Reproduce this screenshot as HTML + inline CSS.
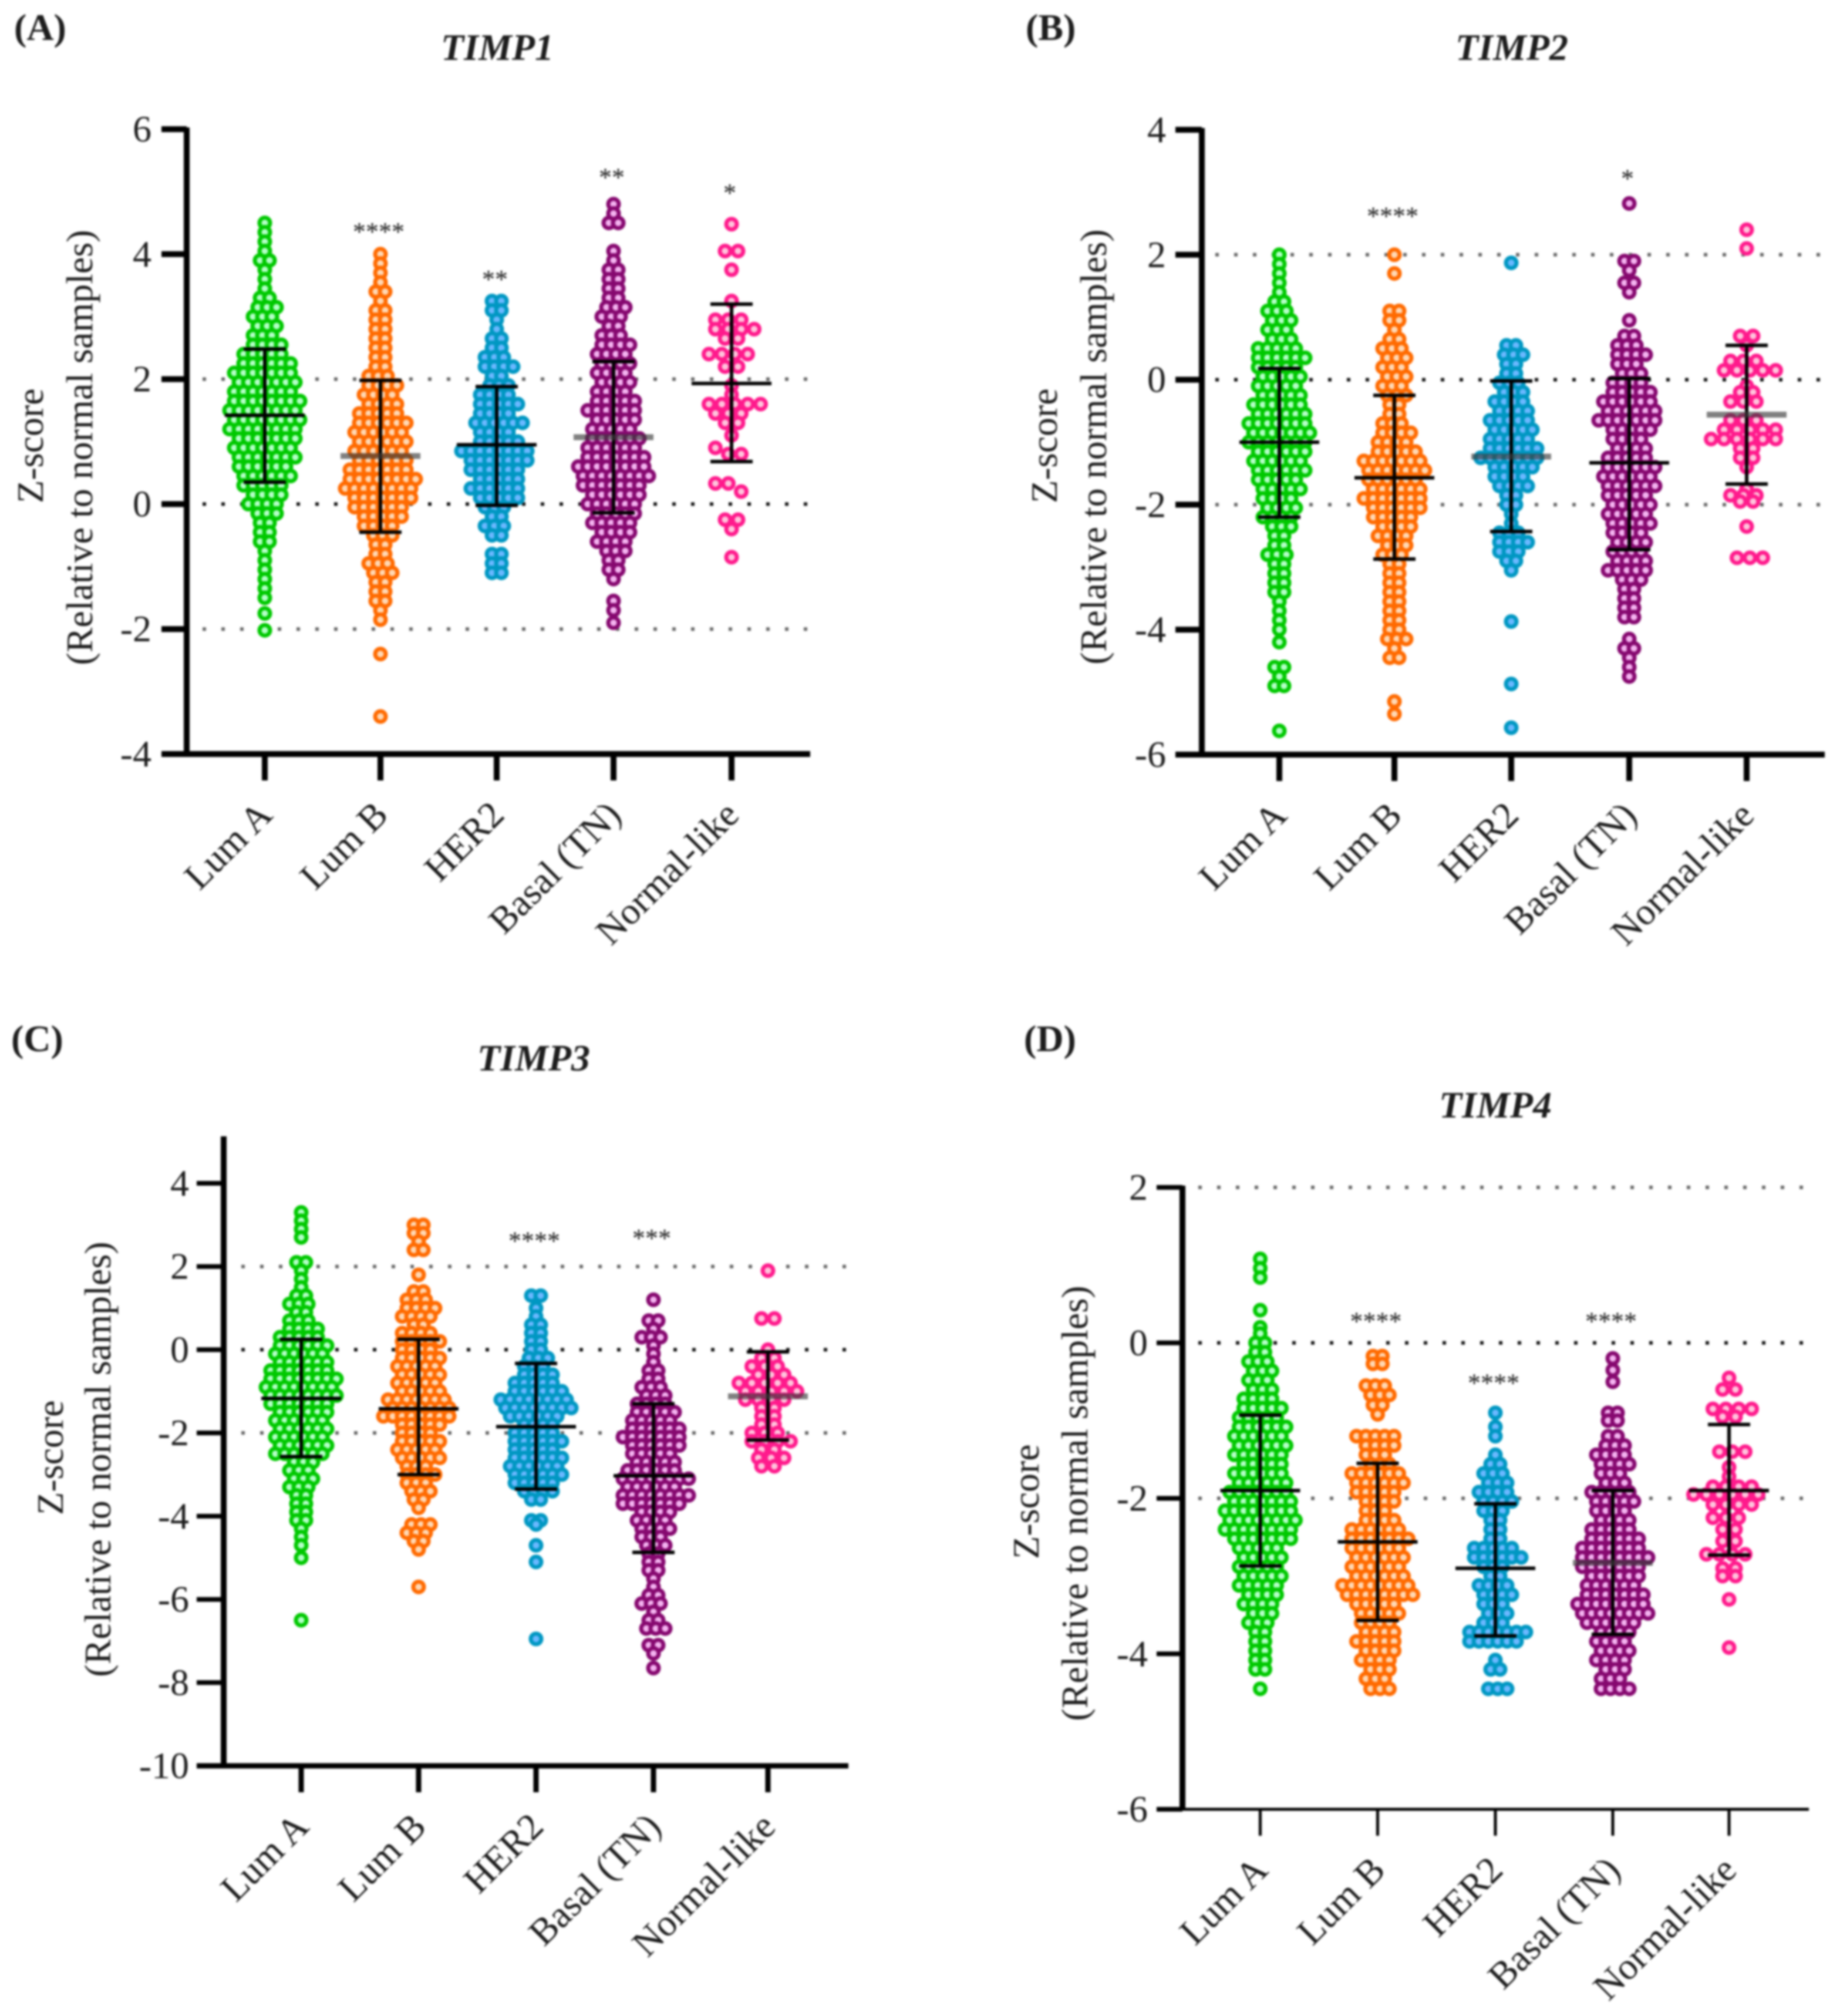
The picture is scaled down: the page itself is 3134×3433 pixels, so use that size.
<!DOCTYPE html>
<html lang="en">
<head>
<meta charset="utf-8">
<title>TIMP1-4 z-scores by breast cancer subtype</title>
<style>
html,body{margin:0;padding:0;background:#fff;}
svg{display:block;filter:blur(1.8px);}
text{font-family:"Liberation Serif",serif;fill:#1c1c1c;}
</style>
</head>
<body>
<svg id="figure" xmlns="http://www.w3.org/2000/svg" width="3134" height="3433" viewBox="0 0 3134 3433"></svg>
<script>
const categories=['Lum A','Lum B','HER2','Basal (TN)','Normal-like'];
const colors=['#00c800','#ff6a00','#0097c2','#86086f','#ff1a8c'];
const tints=['#b4ffc8','#ffd8b4','#6ab8ff','#f4b4f0','#ffc4dc'];

const timp1Ticks=[6,4,2,0,-2,-4];
const timp1Means=[1.42,0.77,0.95,1.07,1.93];
const timp1Upper=[2.48,1.98,1.88,2.28,3.2];
const timp1Lower=[0.35,-0.45,-0.02,-0.14,0.68];
const timp1Stars=['','****','**','**','*'];
const timp1StarLevels=[0,4.44,3.68,5.31,5.06];
const timp1LumA=[4.5,4.35,4.2,4.05,3.9,3.9,3.75,3.6,3.45,3.3,3.3,3.15,3.15,3.15,3,3,3,2.85,2.85,2.85,2.7,2.7,2.7,2.55,2.55,2.55,2.55,2.4,2.4,2.4,2.4,2.4,2.25,2.25,2.25,2.25,2.25,2.25,2.1,2.1,2.1,2.1,2.1,2.1,2.1,1.95,1.95,1.95,1.95,1.95,1.95,1.95,1.8,1.8,1.8,1.8,1.8,1.8,1.8,1.65,1.65,1.65,1.65,1.65,1.65,1.65,1.65,1.5,1.5,1.5,1.5,1.5,1.5,1.5,1.5,1.35,1.35,1.35,1.35,1.35,1.35,1.35,1.35,1.2,1.2,1.2,1.2,1.2,1.2,1.2,1.2,1.05,1.05,1.05,1.05,1.05,1.05,1.05,0.9,0.9,0.9,0.9,0.9,0.9,0.9,0.75,0.75,0.75,0.75,0.75,0.75,0.75,0.6,0.6,0.6,0.6,0.6,0.6,0.45,0.45,0.45,0.45,0.45,0.45,0.3,0.3,0.3,0.3,0.3,0.15,0.15,0.15,0.15,0,0,0,0,-0.15,-0.15,-0.15,-0.3,-0.3,-0.45,-0.45,-0.6,-0.6,-0.75,-0.9,-1.05,-1.2,-1.35,-1.5,-1.75,-2.02];
const timp1LumB=[4,3.85,3.7,3.55,3.4,3.4,3.25,3.1,3.1,2.95,2.95,2.8,2.8,2.65,2.65,2.5,2.5,2.35,2.35,2.2,2.2,2.05,2.05,2.05,1.9,1.9,1.9,1.9,1.75,1.75,1.75,1.75,1.6,1.6,1.6,1.6,1.45,1.45,1.45,1.45,1.45,1.3,1.3,1.3,1.3,1.3,1.3,1.15,1.15,1.15,1.15,1.15,1.15,1,1,1,1,1,1,0.85,0.85,0.85,0.85,0.85,0.85,0.7,0.7,0.7,0.7,0.7,0.7,0.55,0.55,0.55,0.55,0.55,0.55,0.55,0.4,0.4,0.4,0.4,0.4,0.4,0.4,0.4,0.25,0.25,0.25,0.25,0.25,0.25,0.25,0.25,0.1,0.1,0.1,0.1,0.1,0.1,0.1,-0.05,-0.05,-0.05,-0.05,-0.05,-0.05,-0.2,-0.2,-0.2,-0.2,-0.2,-0.35,-0.35,-0.35,-0.35,-0.5,-0.5,-0.5,-0.65,-0.65,-0.8,-0.8,-0.95,-0.95,-0.95,-1.1,-1.1,-1.1,-1.25,-1.25,-1.4,-1.4,-1.55,-1.55,-1.7,-1.85,-2.4,-3.4];
const timp1Her2=[3.25,3.25,3.1,3.1,2.95,2.8,2.65,2.65,2.5,2.5,2.35,2.35,2.35,2.2,2.2,2.2,2.2,2.05,2.05,1.9,1.9,1.9,1.75,1.75,1.75,1.75,1.6,1.6,1.6,1.6,1.6,1.45,1.45,1.45,1.45,1.3,1.3,1.3,1.3,1.3,1.3,1.15,1.15,1.15,1.15,1,1,1,1,1,0.85,0.85,0.85,0.85,0.85,0.85,0.85,0.85,0.7,0.7,0.7,0.7,0.7,0.7,0.7,0.55,0.55,0.55,0.55,0.55,0.55,0.4,0.4,0.4,0.4,0.4,0.25,0.25,0.25,0.25,0.25,0.25,0.1,0.1,0.1,0.1,0.1,-0.05,-0.05,-0.05,-0.2,-0.2,-0.35,-0.35,-0.35,-0.5,-0.5,-0.8,-0.8,-0.95,-0.95,-1.1,-1.1];
const timp1Basal=[4.8,4.65,4.5,4.5,4.05,3.9,3.75,3.75,3.6,3.6,3.45,3.45,3.3,3.3,3.15,3.15,3.15,3,3,3,2.85,2.85,2.7,2.7,2.7,2.55,2.55,2.55,2.55,2.4,2.4,2.4,2.4,2.25,2.25,2.25,2.25,2.1,2.1,2.1,2.1,1.95,1.95,1.95,1.95,1.8,1.8,1.8,1.8,1.65,1.65,1.65,1.65,1.65,1.5,1.5,1.5,1.5,1.5,1.5,1.35,1.35,1.35,1.35,1.35,1.2,1.2,1.2,1.2,1.2,1.05,1.05,1.05,1.05,1.05,1.05,0.9,0.9,0.9,0.9,0.9,0.9,0.75,0.75,0.75,0.75,0.75,0.75,0.75,0.6,0.6,0.6,0.6,0.6,0.6,0.6,0.6,0.45,0.45,0.45,0.45,0.45,0.45,0.45,0.45,0.3,0.3,0.3,0.3,0.3,0.3,0.3,0.15,0.15,0.15,0.15,0.15,0.15,0,0,0,0,0,0,-0.15,-0.15,-0.15,-0.15,-0.15,-0.3,-0.3,-0.3,-0.3,-0.3,-0.45,-0.45,-0.45,-0.45,-0.6,-0.6,-0.6,-0.6,-0.75,-0.75,-0.75,-0.9,-0.9,-1.05,-1.05,-1.2,-1.55,-1.7,-1.9];
const timp1Normal=[4.48,4.05,4.05,3.75,3.25,2.95,2.95,2.95,2.8,2.8,2.8,2.8,2.65,2.65,2.4,2.4,2.4,2.4,2.2,2.2,1.9,1.75,1.6,1.6,1.6,1.6,1.6,1.45,1.45,1.45,1.3,1.3,1.1,0.9,0.8,0.8,0.33,0.33,0.2,-0.25,-0.25,-0.4,-0.85];

const timp2Ticks=[4,2,0,-2,-4,-6];
const timp2Means=[-1,-1.57,-1.23,-1.33,-0.56];
const timp2Upper=[0.18,-0.25,-0.02,0.02,0.55];
const timp2Lower=[-2.2,-2.87,-2.43,-2.72,-1.67];
const timp2Stars=['','****','','*',''];
const timp2StarLevels=[0,2.7,0,3.3,0];
const timp2LumA=[2,1.85,1.7,1.55,1.4,1.25,1.25,1.1,1.1,1.1,0.95,0.95,0.95,0.8,0.8,0.8,0.65,0.65,0.65,0.5,0.5,0.5,0.5,0.5,0.35,0.35,0.35,0.35,0.35,0.35,0.2,0.2,0.2,0.2,0.2,0.05,0.05,0.05,0.05,0.05,-0.1,-0.1,-0.1,-0.1,-0.1,-0.25,-0.25,-0.25,-0.25,-0.25,-0.4,-0.4,-0.4,-0.4,-0.4,-0.4,-0.55,-0.55,-0.55,-0.55,-0.55,-0.55,-0.7,-0.7,-0.7,-0.7,-0.7,-0.7,-0.7,-0.85,-0.85,-0.85,-0.85,-0.85,-0.85,-0.85,-1,-1,-1,-1,-1,-1,-1,-1.15,-1.15,-1.15,-1.15,-1.15,-1.15,-1.3,-1.3,-1.3,-1.3,-1.3,-1.3,-1.45,-1.45,-1.45,-1.45,-1.45,-1.45,-1.6,-1.6,-1.6,-1.6,-1.6,-1.75,-1.75,-1.75,-1.75,-1.75,-1.9,-1.9,-1.9,-1.9,-2.05,-2.05,-2.05,-2.05,-2.2,-2.2,-2.2,-2.2,-2.35,-2.35,-2.35,-2.5,-2.5,-2.65,-2.65,-2.8,-2.8,-2.8,-2.95,-2.95,-3.1,-3.1,-3.25,-3.25,-3.4,-3.4,-3.55,-3.7,-3.85,-4,-4.2,-4.6,-4.6,-4.75,-4.9,-4.9,-5.62];
const timp2LumB=[2,1.7,1.1,1.1,0.95,0.95,0.8,0.65,0.65,0.5,0.5,0.5,0.35,0.35,0.35,0.2,0.2,0.2,0.05,0.05,0.05,-0.1,-0.1,-0.1,-0.25,-0.25,-0.25,-0.4,-0.4,-0.55,-0.55,-0.7,-0.7,-0.7,-0.85,-0.85,-0.85,-0.85,-1,-1,-1,-1,-1.15,-1.15,-1.15,-1.15,-1.15,-1.3,-1.3,-1.3,-1.3,-1.3,-1.3,-1.3,-1.45,-1.45,-1.45,-1.45,-1.45,-1.45,-1.45,-1.6,-1.6,-1.6,-1.6,-1.6,-1.6,-1.75,-1.75,-1.75,-1.75,-1.75,-1.75,-1.9,-1.9,-1.9,-1.9,-1.9,-1.9,-1.9,-2.05,-2.05,-2.05,-2.05,-2.05,-2.05,-2.2,-2.2,-2.2,-2.2,-2.2,-2.35,-2.35,-2.35,-2.35,-2.5,-2.5,-2.5,-2.5,-2.65,-2.65,-2.65,-2.8,-2.8,-2.8,-2.95,-2.95,-3.1,-3.1,-3.25,-3.25,-3.4,-3.4,-3.55,-3.55,-3.7,-3.7,-3.85,-3.85,-4,-4,-4.15,-4.15,-4.15,-4.3,-4.45,-4.45,-5.15,-5.35];
const timp2Her2=[1.87,0.55,0.55,0.4,0.4,0.4,0.25,0.25,0.1,0.1,-0.05,-0.05,-0.05,-0.2,-0.2,-0.2,-0.35,-0.35,-0.35,-0.35,-0.5,-0.5,-0.5,-0.5,-0.65,-0.65,-0.65,-0.65,-0.65,-0.8,-0.8,-0.8,-0.8,-0.8,-0.95,-0.95,-0.95,-0.95,-0.95,-1.1,-1.1,-1.1,-1.1,-1.1,-1.1,-1.25,-1.25,-1.25,-1.25,-1.25,-1.25,-1.25,-1.4,-1.4,-1.4,-1.4,-1.4,-1.55,-1.55,-1.55,-1.55,-1.7,-1.7,-1.7,-1.7,-1.85,-1.85,-2,-2,-2.15,-2.3,-2.45,-2.45,-2.45,-2.6,-2.6,-2.6,-2.6,-2.75,-2.75,-2.75,-2.9,-2.9,-3.05,-3.87,-4.87,-5.57];
const timp2Basal=[2.82,1.9,1.9,1.75,1.55,1.55,1.4,0.95,0.7,0.7,0.55,0.55,0.55,0.4,0.4,0.4,0.4,0.25,0.25,0.25,0.1,0.1,0.1,-0.05,-0.05,-0.05,-0.05,-0.2,-0.2,-0.2,-0.2,-0.2,-0.35,-0.35,-0.35,-0.35,-0.35,-0.35,-0.5,-0.5,-0.5,-0.5,-0.5,-0.5,-0.65,-0.65,-0.65,-0.65,-0.65,-0.65,-0.65,-0.8,-0.8,-0.8,-0.8,-0.8,-0.95,-0.95,-0.95,-0.95,-1.1,-1.1,-1.1,-1.1,-1.25,-1.25,-1.25,-1.25,-1.25,-1.4,-1.4,-1.4,-1.4,-1.4,-1.4,-1.55,-1.55,-1.55,-1.55,-1.55,-1.55,-1.7,-1.7,-1.7,-1.7,-1.7,-1.7,-1.85,-1.85,-1.85,-1.85,-1.85,-2,-2,-2,-2,-2,-2.15,-2.15,-2.15,-2.15,-2.15,-2.3,-2.3,-2.3,-2.3,-2.3,-2.45,-2.45,-2.45,-2.45,-2.6,-2.6,-2.6,-2.6,-2.75,-2.75,-2.75,-2.75,-2.9,-2.9,-2.9,-2.9,-3.05,-3.05,-3.05,-3.05,-3.05,-3.2,-3.2,-3.2,-3.35,-3.35,-3.5,-3.5,-3.65,-3.65,-3.8,-3.8,-4.15,-4.3,-4.3,-4.45,-4.6,-4.75];
const timp2Normal=[2.4,2.1,0.7,0.7,0.55,0.3,0.3,0.3,0.15,0.15,0.15,0.15,0.15,-0.1,-0.2,-0.2,-0.35,-0.35,-0.35,-0.65,-0.65,-0.65,-0.8,-0.8,-0.8,-0.8,-0.8,-0.95,-0.95,-0.95,-0.95,-0.95,-0.95,-1.1,-1.1,-1.25,-1.25,-1.4,-1.75,-1.85,-1.85,-1.85,-1.95,-1.95,-2.35,-2.85,-2.85,-2.85];

const timp3Ticks=[4,2,0,-2,-4,-6,-8,-10];
const timp3Means=[-1.17,-1.42,-1.85,-3.03,-1.12];
const timp3Upper=[0.25,0.25,-0.33,-1.3,-0.05];
const timp3Lower=[-2.57,-3,-3.35,-4.87,-2.17];
const timp3Stars=['','','****','***',''];
const timp3StarLevels=[0,0,2.74,2.8,0];
const timp3LumA=[3.3,3.1,2.9,2.7,2.1,2.1,1.9,1.7,1.5,1.3,1.3,1.1,1.1,1.1,0.9,0.9,0.7,0.7,0.7,0.5,0.5,0.5,0.5,0.3,0.3,0.3,0.3,0.3,0.1,0.1,0.1,0.1,0.1,0.1,-0.1,-0.1,-0.1,-0.1,-0.1,-0.1,-0.3,-0.3,-0.3,-0.3,-0.3,-0.3,-0.5,-0.5,-0.5,-0.5,-0.5,-0.5,-0.5,-0.7,-0.7,-0.7,-0.7,-0.7,-0.7,-0.7,-0.7,-0.9,-0.9,-0.9,-0.9,-0.9,-0.9,-0.9,-0.9,-1.1,-1.1,-1.1,-1.1,-1.1,-1.1,-1.1,-1.1,-1.3,-1.3,-1.3,-1.3,-1.3,-1.3,-1.3,-1.5,-1.5,-1.5,-1.5,-1.5,-1.5,-1.7,-1.7,-1.7,-1.7,-1.7,-1.7,-1.9,-1.9,-1.9,-1.9,-1.9,-1.9,-2.1,-2.1,-2.1,-2.1,-2.1,-2.1,-2.3,-2.3,-2.3,-2.3,-2.3,-2.3,-2.5,-2.5,-2.5,-2.5,-2.5,-2.5,-2.7,-2.7,-2.7,-2.9,-2.9,-2.9,-3.1,-3.1,-3.1,-3.3,-3.3,-3.3,-3.5,-3.5,-3.7,-3.7,-3.9,-3.9,-4.1,-4.1,-4.3,-4.5,-4.7,-5,-6.5];
const timp3LumB=[3,3,2.8,2.8,2.6,2.4,2.4,1.8,1.4,1.4,1.2,1.2,1.2,1,1,1,1,0.8,0.8,0.8,0.8,0.6,0.6,0.4,0.4,0.4,0.4,0.2,0.2,0.2,0.2,0.2,0,0,0,0,-0.2,-0.2,-0.2,-0.2,-0.2,-0.4,-0.4,-0.4,-0.4,-0.4,-0.6,-0.6,-0.6,-0.6,-0.6,-0.8,-0.8,-0.8,-0.8,-0.8,-1,-1,-1,-1,-1,-1.2,-1.2,-1.2,-1.2,-1.2,-1.2,-1.2,-1.4,-1.4,-1.4,-1.4,-1.4,-1.4,-1.4,-1.6,-1.6,-1.6,-1.6,-1.6,-1.6,-1.6,-1.6,-1.8,-1.8,-1.8,-1.8,-1.8,-2,-2,-2,-2,-2.2,-2.2,-2.2,-2.2,-2.2,-2.4,-2.4,-2.4,-2.4,-2.4,-2.6,-2.6,-2.6,-2.6,-2.6,-2.8,-2.8,-2.8,-3,-3,-3,-3,-3.2,-3.2,-3.2,-3.4,-3.4,-3.4,-3.6,-3.6,-3.8,-4.2,-4.2,-4.2,-4.4,-4.4,-4.4,-4.6,-4.6,-4.8,-5.7];
const timp3Her2=[1.3,1.3,1,0.8,0.6,0.6,0.4,0.4,0.2,0.2,0,0,-0.2,-0.2,-0.2,-0.4,-0.4,-0.4,-0.6,-0.6,-0.6,-0.6,-0.8,-0.8,-0.8,-0.8,-0.8,-1,-1,-1,-1,-1,-1,-1.2,-1.2,-1.2,-1.2,-1.2,-1.2,-1.2,-1.2,-1.4,-1.4,-1.4,-1.4,-1.4,-1.4,-1.4,-1.4,-1.6,-1.6,-1.6,-1.6,-1.6,-1.6,-1.8,-1.8,-1.8,-1.8,-2,-2,-2,-2,-2,-2.2,-2.2,-2.2,-2.2,-2.2,-2.2,-2.4,-2.4,-2.4,-2.4,-2.4,-2.6,-2.6,-2.6,-2.6,-2.6,-2.6,-2.8,-2.8,-2.8,-2.8,-2.8,-2.8,-3,-3,-3,-3,-3,-3,-3.2,-3.2,-3.2,-3.2,-3.2,-3.4,-3.4,-3.4,-3.4,-3.6,-3.6,-4.1,-4.1,-4.2,-4.7,-5.1,-6.95];
const timp3Basal=[1.2,0.7,0.7,0.5,0.3,0.3,0.3,0.1,-0.1,-0.3,-0.5,-0.5,-0.7,-0.7,-0.9,-0.9,-0.9,-1.1,-1.1,-1.1,-1.3,-1.3,-1.3,-1.3,-1.5,-1.5,-1.5,-1.5,-1.5,-1.7,-1.7,-1.7,-1.7,-1.7,-1.9,-1.9,-1.9,-1.9,-1.9,-1.9,-2.1,-2.1,-2.1,-2.1,-2.1,-2.1,-2.1,-2.3,-2.3,-2.3,-2.3,-2.3,-2.3,-2.5,-2.5,-2.5,-2.5,-2.5,-2.7,-2.7,-2.7,-2.7,-2.7,-2.9,-2.9,-2.9,-2.9,-2.9,-2.9,-3.1,-3.1,-3.1,-3.1,-3.1,-3.1,-3.1,-3.1,-3.3,-3.3,-3.3,-3.3,-3.3,-3.3,-3.5,-3.5,-3.5,-3.5,-3.5,-3.5,-3.5,-3.5,-3.7,-3.7,-3.7,-3.7,-3.7,-3.7,-3.7,-3.9,-3.9,-3.9,-3.9,-4.1,-4.1,-4.1,-4.1,-4.3,-4.3,-4.3,-4.3,-4.5,-4.5,-4.5,-4.7,-4.7,-4.7,-4.9,-4.9,-5.1,-5.1,-5.3,-5.3,-5.5,-5.7,-5.9,-5.9,-6.1,-6.1,-6.1,-6.3,-6.5,-6.5,-6.7,-6.7,-6.7,-7.1,-7.1,-7.3,-7.65];
const timp3Normal=[1.9,0.75,0.75,0,-0.2,-0.2,-0.4,-0.4,-0.4,-0.6,-0.6,-0.6,-0.8,-0.8,-0.8,-0.8,-0.8,-1,-1,-1,-1,-1,-1.2,-1.2,-1.2,-1.2,-1.4,-1.4,-1.6,-1.6,-1.8,-1.8,-2,-2,-2,-2.2,-2.2,-2.2,-2.2,-2.4,-2.4,-2.6,-2.6,-2.6,-2.8,-2.8];

const timp4Ticks=[2,0,-2,-4,-6];
const timp4Means=[-1.9,-2.56,-2.9,-2.83,-1.9];
const timp4Upper=[-0.93,-1.55,-2.07,-1.9,-1.05];
const timp4Lower=[-2.87,-3.57,-3.77,-3.75,-2.73];
const timp4Stars=['','****','****','****',''];
const timp4StarLevels=[0,0.34,-0.45,0.34,0];
const timp4LumA=[1.08,0.96,0.84,0.42,0.2,0.12,0,0,-0.12,-0.12,-0.24,-0.24,-0.24,-0.36,-0.36,-0.36,-0.48,-0.48,-0.48,-0.6,-0.6,-0.6,-0.72,-0.72,-0.72,-0.72,-0.84,-0.84,-0.84,-0.84,-0.84,-0.96,-0.96,-0.96,-0.96,-0.96,-1.08,-1.08,-1.08,-1.08,-1.08,-1.08,-1.2,-1.2,-1.2,-1.2,-1.2,-1.2,-1.32,-1.32,-1.32,-1.32,-1.32,-1.32,-1.44,-1.44,-1.44,-1.44,-1.44,-1.44,-1.56,-1.56,-1.56,-1.56,-1.56,-1.68,-1.68,-1.68,-1.68,-1.68,-1.68,-1.8,-1.8,-1.8,-1.8,-1.8,-1.8,-1.92,-1.92,-1.92,-1.92,-1.92,-1.92,-1.92,-2.04,-2.04,-2.04,-2.04,-2.04,-2.04,-2.04,-2.16,-2.16,-2.16,-2.16,-2.16,-2.16,-2.16,-2.16,-2.28,-2.28,-2.28,-2.28,-2.28,-2.28,-2.28,-2.28,-2.4,-2.4,-2.4,-2.4,-2.4,-2.4,-2.4,-2.4,-2.52,-2.52,-2.52,-2.52,-2.52,-2.52,-2.52,-2.64,-2.64,-2.64,-2.64,-2.64,-2.76,-2.76,-2.76,-2.76,-2.76,-2.88,-2.88,-2.88,-2.88,-2.88,-3,-3,-3,-3,-3,-3.12,-3.12,-3.12,-3.12,-3.12,-3.24,-3.24,-3.24,-3.24,-3.36,-3.36,-3.36,-3.36,-3.48,-3.48,-3.48,-3.6,-3.6,-3.6,-3.72,-3.72,-3.84,-3.84,-3.96,-3.96,-4.08,-4.08,-4.2,-4.2,-4.45];
const timp4LumB=[-0.17,-0.17,-0.27,-0.27,-0.55,-0.55,-0.55,-0.67,-0.67,-0.67,-0.8,-0.8,-0.92,-1.2,-1.2,-1.2,-1.2,-1.2,-1.32,-1.32,-1.32,-1.32,-1.44,-1.44,-1.44,-1.56,-1.56,-1.56,-1.68,-1.68,-1.68,-1.68,-1.68,-1.68,-1.8,-1.8,-1.8,-1.8,-1.8,-1.8,-1.92,-1.92,-1.92,-1.92,-1.92,-2.04,-2.04,-2.04,-2.04,-2.16,-2.16,-2.16,-2.28,-2.28,-2.28,-2.28,-2.4,-2.4,-2.4,-2.4,-2.4,-2.4,-2.52,-2.52,-2.52,-2.52,-2.52,-2.52,-2.52,-2.64,-2.64,-2.64,-2.64,-2.64,-2.64,-2.76,-2.76,-2.76,-2.76,-2.76,-2.76,-2.88,-2.88,-2.88,-2.88,-2.88,-2.88,-3,-3,-3,-3,-3,-3,-3.12,-3.12,-3.12,-3.12,-3.12,-3.12,-3.12,-3.12,-3.24,-3.24,-3.24,-3.24,-3.24,-3.24,-3.24,-3.24,-3.36,-3.36,-3.36,-3.36,-3.36,-3.48,-3.48,-3.48,-3.48,-3.48,-3.6,-3.6,-3.6,-3.6,-3.72,-3.72,-3.72,-3.72,-3.84,-3.84,-3.84,-3.84,-3.84,-3.96,-3.96,-3.96,-3.96,-4.08,-4.08,-4.08,-4.08,-4.2,-4.2,-4.2,-4.32,-4.32,-4.32,-4.45,-4.45,-4.45];
const timp4Her2=[-0.9,-1.08,-1.2,-1.44,-1.56,-1.56,-1.68,-1.68,-1.68,-1.8,-1.8,-1.8,-1.92,-1.92,-1.92,-1.92,-2.04,-2.04,-2.04,-2.04,-2.16,-2.16,-2.16,-2.28,-2.28,-2.4,-2.4,-2.52,-2.52,-2.64,-2.64,-2.64,-2.64,-2.64,-2.76,-2.76,-2.76,-2.76,-2.76,-2.76,-2.88,-2.88,-2.88,-3,-3,-3.12,-3.12,-3.12,-3.12,-3.24,-3.24,-3.24,-3.24,-3.36,-3.36,-3.36,-3.48,-3.48,-3.48,-3.6,-3.6,-3.6,-3.72,-3.72,-3.72,-3.72,-3.72,-3.72,-3.72,-3.84,-3.84,-3.84,-3.84,-3.84,-3.84,-4.08,-4.2,-4.2,-4.45,-4.45,-4.45];
const timp4Basal=[-0.2,-0.35,-0.5,-0.9,-0.9,-1,-1,-1.2,-1.2,-1.32,-1.32,-1.32,-1.44,-1.44,-1.44,-1.44,-1.56,-1.56,-1.56,-1.56,-1.68,-1.68,-1.68,-1.8,-1.8,-1.8,-1.92,-1.92,-1.92,-1.92,-1.92,-2.04,-2.04,-2.04,-2.04,-2.04,-2.16,-2.16,-2.16,-2.16,-2.28,-2.28,-2.28,-2.28,-2.4,-2.4,-2.4,-2.4,-2.4,-2.52,-2.52,-2.52,-2.52,-2.52,-2.52,-2.64,-2.64,-2.64,-2.64,-2.64,-2.64,-2.64,-2.76,-2.76,-2.76,-2.76,-2.76,-2.76,-2.76,-2.76,-2.88,-2.88,-2.88,-2.88,-2.88,-2.88,-2.88,-3,-3,-3,-3,-3,-3,-3.12,-3.12,-3.12,-3.12,-3.12,-3.12,-3.24,-3.24,-3.24,-3.24,-3.24,-3.24,-3.24,-3.36,-3.36,-3.36,-3.36,-3.36,-3.36,-3.36,-3.36,-3.48,-3.48,-3.48,-3.48,-3.48,-3.48,-3.48,-3.48,-3.6,-3.6,-3.6,-3.6,-3.6,-3.6,-3.72,-3.72,-3.72,-3.72,-3.84,-3.84,-3.84,-3.84,-3.96,-3.96,-3.96,-3.96,-4.08,-4.08,-4.08,-4.08,-4.2,-4.2,-4.2,-4.32,-4.32,-4.32,-4.45,-4.45,-4.45,-4.45];
const timp4Normal=[-0.45,-0.6,-0.6,-0.85,-0.85,-0.85,-0.85,-0.95,-0.95,-1.4,-1.4,-1.4,-1.6,-1.72,-1.85,-1.85,-1.85,-1.85,-1.95,-1.95,-1.95,-1.95,-1.95,-1.95,-2.08,-2.08,-2.08,-2.08,-2.25,-2.25,-2.25,-2.4,-2.4,-2.55,-2.55,-2.72,-2.72,-2.72,-2.72,-2.9,-2.9,-3,-3,-3.3,-3.92];

/* Layout of each panel; the plotted numbers all live in the arrays above. */
const panels=[
 {id:'timp1',title:'TIMP1',tag:'(A)',tagX:24,tagY:68,titleX:847,titleY:102,
  ticks:timp1Ticks,means:timp1Means,upper:timp1Upper,lower:timp1Lower,stars:timp1Stars,starLevels:timp1StarLevels,
  series:[timp1LumA,timp1LumB,timp1Her2,timp1Basal,timp1Normal],
  loV:-4,hiV:6,loPx:1284,hiPx:220,axisX:318,axisTop:220,axisEnd:1380,tickLeft:275,labelRight:258,
  centers:[451,648,846,1045,1246],guideStart:345,hw:10,xw:10,yw:10,lastXw:10,bin:0.15,
  zX:73,zY:759,relX:157,relY:762,grey:[0,1,0,1,0]},
 {id:'timp2',title:'TIMP2',tag:'(B)',tagX:1747,tagY:68,titleX:2575,titleY:102,
  ticks:timp2Ticks,means:timp2Means,upper:timp2Upper,lower:timp2Lower,stars:timp2Stars,starLevels:timp2StarLevels,
  series:[timp2LumA,timp2LumB,timp2Her2,timp2Basal,timp2Normal],
  loV:-6,hiV:4,loPx:1285,hiPx:221,axisX:2047,axisTop:221,axisEnd:3108,tickLeft:2002,labelRight:1986,
  centers:[2179,2375,2574,2775,2975],guideStart:2070,hw:10,xw:10,yw:10,lastXw:10,bin:0.15,
  zX:1800,zY:759,relX:1884,relY:761,grey:[0,0,1,0,1]},
 {id:'timp3',title:'TIMP3',tag:'(C)',tagX:19,tagY:1790,titleX:909,titleY:1823,
  ticks:timp3Ticks,means:timp3Means,upper:timp3Upper,lower:timp3Lower,stars:timp3Stars,starLevels:timp3StarLevels,
  series:[timp3LumA,timp3LumB,timp3Her2,timp3Basal,timp3Normal],
  loV:-10,hiV:4,loPx:3007,hiPx:2015,axisX:381,axisTop:1938,axisEnd:1445,tickLeft:335,labelRight:322,
  centers:[513,713,913,1113,1308],guideStart:411,hw:8,xw:9,yw:10,lastXw:9,bin:0.2,
  zX:107,zY:2482,relX:188,relY:2485,grey:[0,0,0,0,1]},
 {id:'timp4',title:'TIMP4',tag:'(D)',tagX:1744,tagY:1790,titleX:2547,titleY:1903,
  ticks:timp4Ticks,means:timp4Means,upper:timp4Upper,lower:timp4Lower,stars:timp4Stars,starLevels:timp4StarLevels,
  series:[timp4LumA,timp4LumB,timp4Her2,timp4Basal,timp4Normal],
  loV:-6,hiV:2,loPx:3081,hiPx:2022,axisX:2014,axisTop:2022,axisEnd:3081,tickLeft:1970,labelRight:1955,
  centers:[2146.5,2346.5,2547,2747,2945],guideStart:2041,hw:8,xw:5,yw:10,lastXw:5,bin:0.12,
  zX:1769,zY:2557,relX:1852,relY:2560,grey:[0,0,0,1,0]}
];
const guideLevels=[2,0,-2];
const seriesSlugs=['lum-a','lum-b','her2','basal-tn','normal-like'];
const NS='http://www.w3.org/2000/svg';
const figure=document.getElementById('figure');

function make(tag,attrs,parent){
  const el=document.createElementNS(NS,tag);
  for(const k in attrs){el.setAttribute(k,attrs[k]);}
  parent.appendChild(el);
  return el;
}
function swarmOffsets(values,bin,slot){
  const rows=new Map();
  values.forEach(function(v,i){
    const key=Math.round(v/bin+0.25);
    if(!rows.has(key)){rows.set(key,[]);}
    rows.get(key).push(i);
  });
  const out=new Array(values.length).fill(0);
  rows.forEach(function(idx,key){
    const stagger=idx.length>2?(Math.abs(key)%2?slot/4:-slot/4):0;
    idx.forEach(function(pointIndex,k){
      out[pointIndex]=(k-(idx.length-1)/2)*slot+stagger;
    });
  });
  return out;
}

panels.forEach(function(p){
  const yScale=function(v){return p.loPx+(v-p.loV)*(p.hiPx-p.loPx)/(p.hiV-p.loV);};
  const g=make('g',{},figure);
  
  

  const tag=make('text',{x:p.tagX,y:p.tagY,'font-size':64,'font-weight':'bold'},g);
  tag.textContent=p.tag;
  
  

  const title=make('text',{x:p.titleX,y:p.titleY,'font-size':64,'font-weight':'bold','font-style':'italic','text-anchor':'middle'},g);
  title.textContent=p.title;
  
  

  const z=make('text',{transform:'translate('+p.zX+','+p.zY+') rotate(-90)','font-size':64,'text-anchor':'middle'},g);
  z.textContent='Z-score';
  
  

  const rel=make('text',{transform:'translate('+p.relX+','+p.relY+') rotate(-90)','font-size':64,'text-anchor':'middle'},g);
  rel.textContent='(Relative to normal samples)';
  
  

  guideLevels.forEach(function(level){
    const guide=make('line',{x1:p.guideStart,x2:p.axisEnd,y1:yScale(level),y2:yScale(level),stroke:level===0?'#111':'#666','stroke-width':6,'stroke-dasharray':'6 26'},g);
    
    
  });

  p.series.forEach(function(values,s){
    const slot=s===4?22:16;
    const offsets=swarmOffsets(values,p.bin,slot);
    const sg=make('g',{},g);
    
    
    values.forEach(function(v,i){
      const c=make('circle',{cx:p.centers[s]+offsets[i],cy:yScale(v),r:9,fill:tints[s],stroke:colors[s],'stroke-width':7},sg);
      
      
    });
  });

  categories.forEach(function(cat,s){
    const x=p.centers[s];
    const eg=make('g',{stroke:'#000','stroke-width':6},g);
    
    
    make('line',{x1:x,x2:x,y1:yScale(p.upper[s]),y2:yScale(p.lower[s])},eg);
    make('line',{x1:x-36,x2:x+36,y1:yScale(p.upper[s]),y2:yScale(p.upper[s])},eg);
    make('line',{x1:x-36,x2:x+36,y1:yScale(p.lower[s]),y2:yScale(p.lower[s])},eg);
    const mean=make('line',{x1:x-68,x2:x+68,y1:yScale(p.means[s]),y2:yScale(p.means[s])},eg);
    if(p.grey[s]){
      mean.setAttribute('stroke','#3c3c3c');
      mean.setAttribute('stroke-width','10');
      mean.setAttribute('stroke-opacity','0.65');
    }
    if(p.stars[s]){
      const star=make('text',{x:x-3,y:yScale(p.starLevels[s])+23,'font-size':44,'text-anchor':'middle'},g);
      star.textContent=p.stars[s];
      
      
    }
    const w=s===4?p.lastXw:p.xw;
    const tick=make('line',{x1:x,x2:x,y1:p.loPx,y2:p.loPx+45,stroke:'#000','stroke-width':w},g);
    
    
    const label=make('text',{transform:'translate('+(x+16)+','+(p.loPx+107)+') rotate(-45)','font-size':64,'text-anchor':'end'},g);
    label.textContent=cat;
    
    
  });

  const yAxis=make('line',{x1:p.axisX,x2:p.axisX,y1:p.axisTop-3,y2:p.loPx+p.xw/2,stroke:'#000','stroke-width':p.yw},g);
  
  
  const xAxis=make('line',{x1:p.tickLeft,x2:p.axisEnd,y1:p.loPx,y2:p.loPx,stroke:'#000','stroke-width':p.xw},g);
  
  

  p.ticks.forEach(function(t){
    const yt=yScale(t);
    const tick=make('line',{x1:p.tickLeft,x2:p.axisX,y1:yt,y2:yt,stroke:'#000','stroke-width':p.hw},g);
    
    
    const label=make('text',{x:p.labelRight,y:yt+21,'font-size':64,'text-anchor':'end'},g);
    label.textContent=String(t);
    
    
  });
});
</script>
</body>
</html>
